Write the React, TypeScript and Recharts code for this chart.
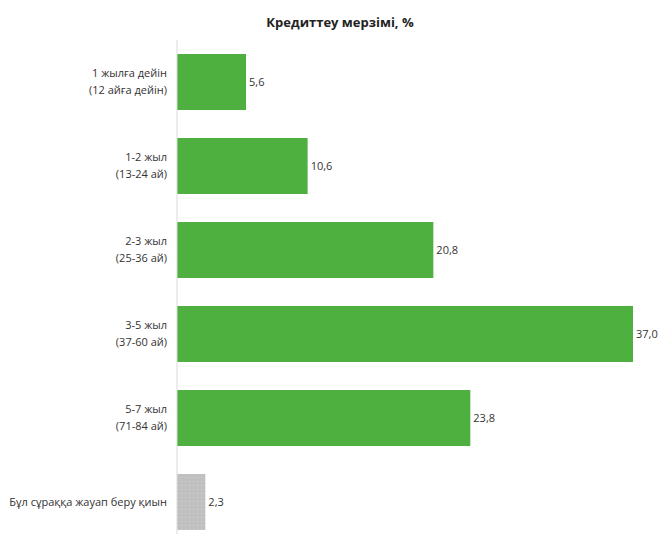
import React from 'react';
import { BarChart, Bar, XAxis, YAxis, Cell, LabelList } from 'recharts';

const categories = [
  '1 жылға дейін\n(12 айға дейін)',
  '1-2 жыл\n(13-24 ай)',
  '2-3 жыл\n(25-36 ай)',
  '3-5 жыл\n(37-60 ай)',
  '5-7 жыл\n(71-84 ай)',
  'Бұл сұраққа жауап беру қиын',
];
const values = [5.6, 10.6, 20.8, 37.0, 23.8, 2.3];
const title = 'Кредиттеу мерзімі, %';

const data = categories.map((name, i) => ({ name, value: values[i] }));

const FONT = '"Open Sans", "Liberation Sans", sans-serif';

const CategoryTick = (props: any) => {
  const { x, y, payload } = props;
  const lines: string[] = String(payload.value).split('\n');
  const lh = 17;
  const start = -((lines.length - 1) * lh) / 2;
  return (
    <text x={x - 2} y={y} textAnchor="end" fontSize={11} fill="#333" fontFamily={FONT}>
      {lines.map((l, i) => (
        <tspan key={i} x={x - 2} y={y + start + i * lh} dy="0.35em">
          {l}
        </tspan>
      ))}
    </text>
  );
};

const fmt = (v: any) => Number(v).toFixed(1).replace('.', ',');

export default function App() {
  return (
    <div style={{ position: 'absolute', left: 0, top: 0, width: 659, height: 544, background: '#fff' }}>
      <div
        style={{
          position: 'absolute',
          left: 0,
          width: 680,
          top: 13,
          textAlign: 'center',
          fontFamily: FONT,
          fontWeight: 'bold',
          fontSize: 13,
          color: '#222',
        }}
      >
        {title}
      </div>
      <BarChart
        width={659}
        height={544}
        data={data}
        layout="vertical"
        margin={{ top: 40, right: 26, bottom: 0, left: 0 }}
        barSize={56}
      >
        <defs>
          <pattern id="dots" width="4" height="4" patternUnits="userSpaceOnUse">
            <rect width="4" height="4" fill="#C0C0C0" />
            <rect x="1" y="1" width="1" height="1" fill="#D6D6D6" />
          </pattern>
        </defs>
        <XAxis type="number" domain={[0, 37]} hide />
        <YAxis
          type="category"
          dataKey="name"
          width={177}
          axisLine={{ stroke: '#D9D9D9' }}
          tickLine={false}
          tick={<CategoryTick />}
          interval={0}
        />
        <Bar dataKey="value" isAnimationActive={false}>
          {data.map((d, i) => (
            <Cell key={i} fill={i === data.length - 1 ? 'url(#dots)' : '#4DB03F'} />
          ))}
          <LabelList
            dataKey="value"
            position="right"
            offset={3}
            formatter={fmt}
            style={{ fontSize: 11, fill: '#333', fontFamily: FONT }}
          />
        </Bar>
      </BarChart>
    </div>
  );
}
